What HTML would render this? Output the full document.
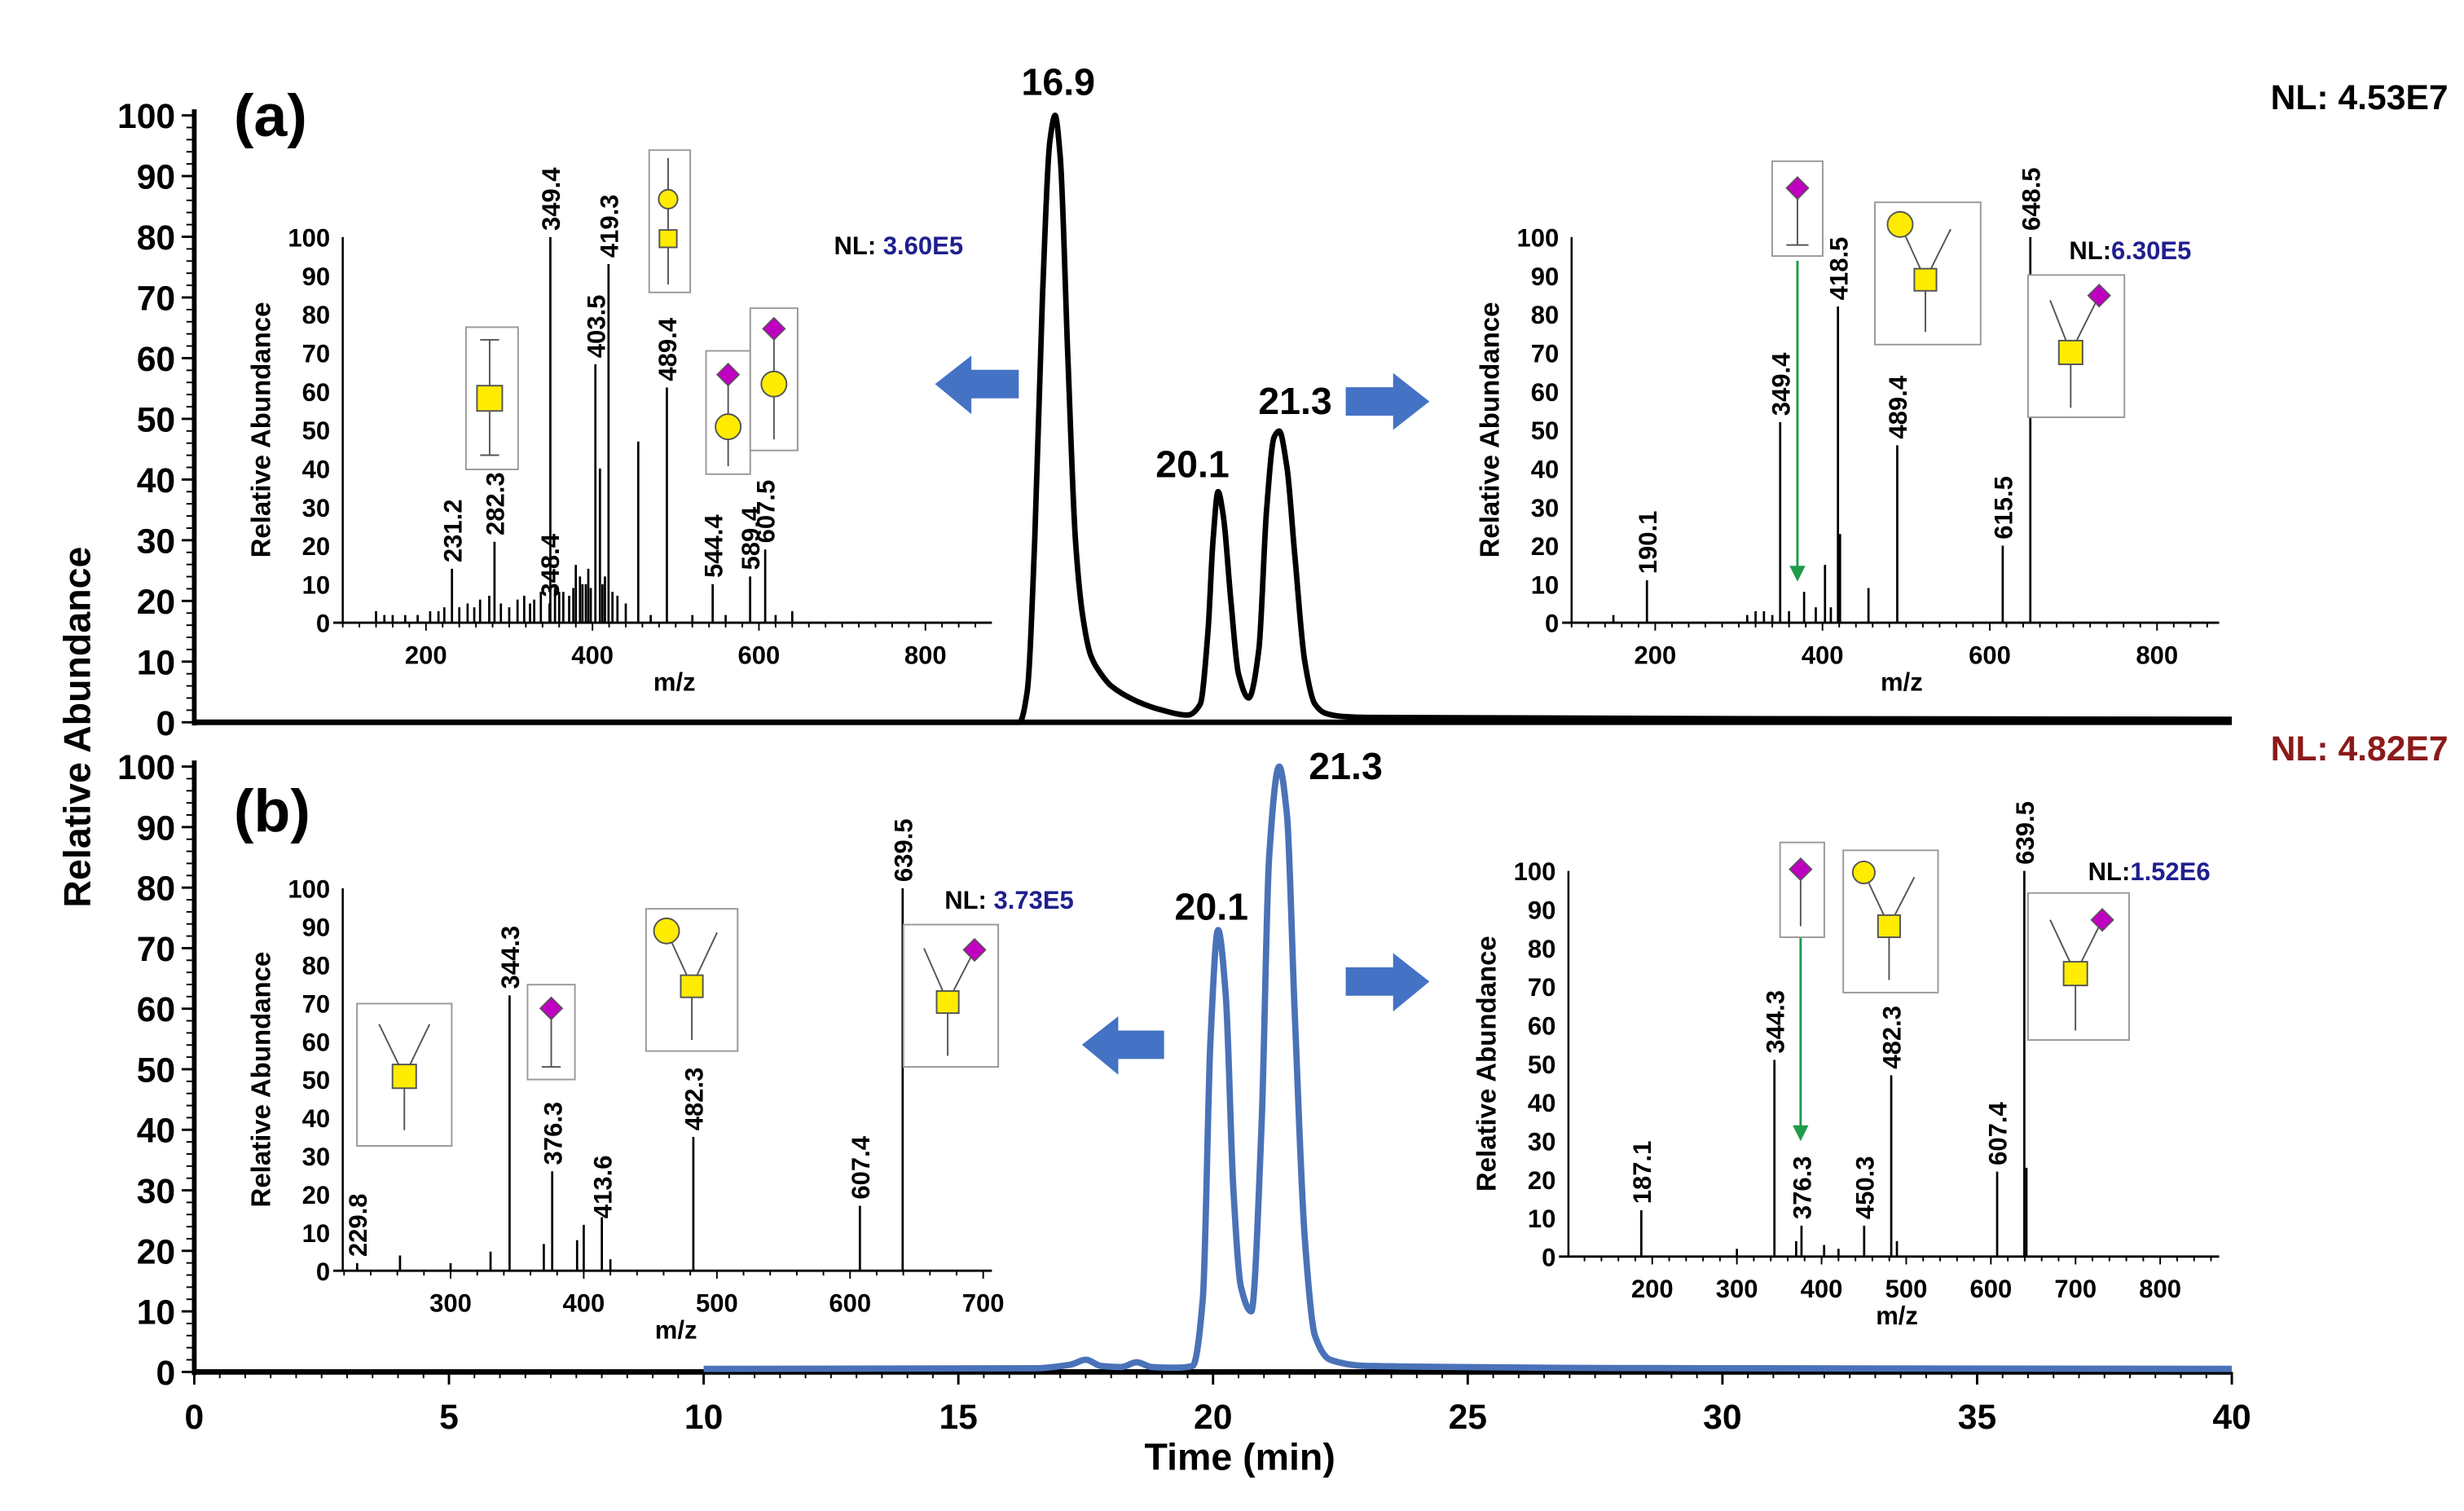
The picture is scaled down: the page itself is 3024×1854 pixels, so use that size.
<!DOCTYPE html>
<html><head><meta charset="utf-8"><style>
html,body{margin:0;padding:0;background:#fff}
svg{display:block;font-family:"Liberation Sans",Arial,sans-serif;font-weight:bold}
</style></head><body>
<svg id="fig" width="3024" height="1854" viewBox="0 0 1560 956" preserveAspectRatio="none" xmlns="http://www.w3.org/2000/svg">
<g id="static">
  <text x="148" y="86" font-size="38">(a)</text>
  <text x="148" y="526" font-size="38">(b)</text>
  <text x="1550" y="69" font-size="22" text-anchor="end">NL: 4.53E7</text>
  <text x="1550" y="481" font-size="22" text-anchor="end" fill="#8b1a1a">NL: 4.82E7</text>
  <text transform="translate(57,460) rotate(-90)" font-size="24" text-anchor="middle">Relative Abundance</text>
  <text x="785" y="930" font-size="24" text-anchor="middle">Time (min)</text>
  <text x="670" y="60" font-size="24" text-anchor="middle">16.9</text>
  <text x="755" y="302" font-size="24" text-anchor="middle">20.1</text>
  <text x="820" y="262" font-size="24" text-anchor="middle">21.3</text>
  <text x="767" y="582" font-size="24" text-anchor="middle">20.1</text>
  <text x="852" y="493" font-size="24" text-anchor="middle">21.3</text>
  <polygon points="592,243 615,225 615,234 645,234 645,252 615,252 615,262" fill="#4472c4"/>
  <polygon points="905,254 882,236 882,245 852,245 852,263 882,263 882,272" fill="#4472c4"/>
  <polygon points="685,661 708,643 708,652 737,652 737,670 708,670 708,680" fill="#4472c4"/>
  <polygon points="905,621 882,603 882,612 852,612 852,630 882,630 882,640" fill="#4472c4"/>
  <text x="528" y="161" font-size="16">NL: <tspan fill="#1f1f8f">3.60E5</tspan></text>
  <text x="1310" y="164" font-size="16">NL:<tspan fill="#1f1f8f">6.30E5</tspan></text>
  <text x="598" y="575" font-size="16">NL: <tspan fill="#1f1f8f">3.73E5</tspan></text>
  <text x="1322" y="557" font-size="16">NL:<tspan fill="#1f1f8f">1.52E6</tspan></text>
</g>
<g id="dyn"></g>
</svg>
<script>
// ---------- chromatogram data ----------
const chromTimeA = [0,16.2,16.35,16.5,16.65,16.8,16.9,17.0,17.15,17.3,17.45,17.6,17.8,18.0,18.5,19.0,19.5,19.75,19.9,20.0,20.1,20.2,20.35,20.5,20.7,20.9,21.05,21.2,21.3,21.45,21.6,21.8,22.0,22.2,22.5,23,30,40];
const chromIntA  = [0,0,5,30,70,96,100,93,60,30,17,11,8,6,3.5,2,1.2,3,15,30,38,34,20,8,4,12,35,47,48,42,28,10,3,1.5,1,0.8,0.6,0.5];
const chromTimeB = [10,16.5,17.2,17.5,17.8,18.2,18.5,18.8,19.3,19.6,19.8,19.95,20.1,20.25,20.4,20.55,20.75,20.95,21.1,21.3,21.45,21.6,21.8,22.0,22.3,23,30,40];
const chromIntB  = [0.5,0.6,1.2,2,1,0.8,1.6,0.8,0.7,1,12,55,73,62,30,14,10,40,85,100,92,60,22,6,2,1,0.6,0.5];
const timeTicks = [0,5,10,15,20,25,30,35,40];
const abundTicks = [0,10,20,30,40,50,60,70,80,90,100];

// ---------- spectra data ----------
const specALmz  = [231.2,282.3,276,348.4,349.4,380,392,403.5,409,419.3,424,455,489.4,544.4,589.4,607.5,640,140,150,160,175,190,205,215,222,240,250,258,265,290,300,310,318,325,330,338,355,360,365,372,377,385,388,395,398,412,415,430,440,470,520,560,620];
const specALint = [14,21,7,5,100,15,10,67,40,93,8,47,61,10,12,19,3,3,2,2,2,2,3,3,4,4,5,4,6,5,4,6,7,5,6,8,9,8,8,7,9,12,10,14,9,10,12,7,5,2,2,2,2];
const specALlabels = ["231.2","282.3","348.4","349.4","403.5","419.3","489.4","544.4","589.4","607.5"];
const specALlabelInt = [14,21,5,100,67,93,61,10,12,19];

const specARmz  = [190.1,150,320,330,349.4,378,392,403,418.5,421,455,489.4,615.5,648.5,360,410,310,340];
const specARint = [11,2,3,3,52,8,4,15,82,23,9,46,20,100,3,4,2,2];
const specARlabels = ["190.1","349.4","418.5","489.4","615.5","648.5"];
const specARlabelInt = [11,52,82,46,20,100];

const specBLmz  = [229.8,262,300,330,344.3,370,376.3,395,400,413.6,420,482.3,607.4,639.5];
const specBLint = [2,4,2,5,72,7,26,8,12,14,3,35,17,100];
const specBLlabels = ["229.8","344.3","376.3","413.6","482.3","607.4","639.5"];
const specBLlabelInt = [2,72,26,12,35,17,100];

const specBRmz  = [187.1,344.3,376.3,370,403,450.3,482.3,489,607.4,639.5,642,300,420];
const specBRint = [12,51,8,4,3,8,47,4,22,100,23,2,2];
const specBRlabels = ["187.1","344.3","376.3","450.3","482.3","607.4","639.5"];
const specBRlabelInt = [12,51,8,8,47,22,100];

const NS = "http://www.w3.org/2000/svg";
const dyn = document.getElementById('dyn');
function mk(tag, attrs, parent){const e=document.createElementNS(NS,tag);for(const k in attrs)e.setAttribute(k,attrs[k]);(parent||dyn).appendChild(e);return e;}

// ---------- main axes ----------
const X0=123, X1=1413;
function tx(t){return X0+(t/40)*(X1-X0);}
function yA(v){return 457-(v/100)*384;}
function yB(v){return 868-(v/100)*383;}

function mainYAxis(yf, name){
  const ax=mk('line',{x1:X0,y1:yf(0)+2,x2:X0,y2:yf(101),stroke:'#000','stroke-width':3});
  
  
  for(let v=0;v<=100;v+=2){
    const major = v%10===0;
    mk('line',{x1:X0-(major?8:5),y1:yf(v),x2:X0,y2:yf(v),stroke:'#000','stroke-width':major?1.5:1});
  }
  abundTicks.forEach(v=>{
    const t=mk('text',{x:X0-12,y:yf(v)+8,'font-size':22,'text-anchor':'end'});
    t.textContent=v;
    
    
  });
}
mainYAxis(yA,'y-axis-a');
mainYAxis(yB,'y-axis-b');
const axA=mk('line',{x1:X0,y1:457,x2:X1,y2:457,stroke:'#000','stroke-width':3.5});


const axB=mk('line',{x1:X0,y1:868,x2:X1,y2:868,stroke:'#000','stroke-width':3.5});


for(let t=0;t<=40;t+=0.5){
  const major=t%5===0;
  mk('line',{x1:tx(t),y1:868,x2:tx(t),y2:868+(major?8:4),stroke:'#000','stroke-width':major?1.5:1});
}
timeTicks.forEach(t=>{
  const e=mk('text',{x:tx(t),y:904,'font-size':22,'text-anchor':'middle'});
  e.textContent=t;
  
  
});

// monotone cubic interpolation (Fritsch-Carlson)
function trace(times, ints, yf, color, w, name){
  const X=times.map(tx), Y=ints.map(yf), n=X.length;
  const dx=[],s=[];
  for(let i=0;i<n-1;i++){dx[i]=X[i+1]-X[i];s[i]=(Y[i+1]-Y[i])/dx[i];}
  const m=new Array(n);
  m[0]=s[0]; m[n-1]=s[n-2];
  for(let i=1;i<n-1;i++){
    if(s[i-1]*s[i]<=0) m[i]=0;
    else { const w1=2*dx[i]+dx[i-1], w2=dx[i]+2*dx[i-1]; m[i]=(w1+w2)/(w1/s[i-1]+w2/s[i]); }
  }
  let d='M'+X[0].toFixed(1)+','+Y[0].toFixed(1);
  for(let i=0;i<n-1;i++){
    const h=dx[i]/3;
    d+=` C${(X[i]+h).toFixed(1)},${(Y[i]+m[i]*h).toFixed(1)} ${(X[i+1]-h).toFixed(1)},${(Y[i+1]-m[i+1]*h).toFixed(1)} ${X[i+1].toFixed(1)},${Y[i+1].toFixed(1)}`;
  }
  const p=mk('path',{d:d,fill:'none',stroke:color,'stroke-width':w,'stroke-linejoin':'round'});
  
  
}
trace(chromTimeA,chromIntA,yA,'#000',3.5,'trace-a');
trace(chromTimeB,chromIntB,yB,'#4a72b8',4,'trace-b');

// ---------- insets ----------
function inset(cfg){
  const g=mk('g',{});
  
  
  const mx=m=>cfg.x0+(m-cfg.m0)*cfg.k;
  const my=v=>cfg.y0-(v/100)*(cfg.y0-cfg.y100);
  mk('line',{x1:cfg.x0,y1:cfg.y0,x2:cfg.x0,y2:cfg.y100,stroke:'#000','stroke-width':1.3},g);
  mk('line',{x1:cfg.x0-6,y1:cfg.y0,x2:cfg.xe,y2:cfg.y0,stroke:'#000','stroke-width':1.5},g);
  for(let v=0;v<=100;v+=10){
    const t=mk('text',{x:cfg.x0-8,y:my(v)+6,'font-size':16,'text-anchor':'end'},g);
    t.textContent=v;
    
    
  }
  for(let m=Math.ceil(cfg.m0/20)*20;mx(m)<=cfg.xe;m+=20){
    const maj=m%cfg.step===0;
    mk('line',{x1:mx(m),y1:cfg.y0,x2:mx(m),y2:cfg.y0+(maj?5:3),stroke:'#000','stroke-width':1},g);
  }
  cfg.ticks.forEach(m=>{
    const t=mk('text',{x:mx(m),y:cfg.y0+26,'font-size':16,'text-anchor':'middle'},g);
    t.textContent=m;
    
    
  });
  const xt=mk('text',{x:cfg.mzX,y:cfg.y0+43,'font-size':16,'text-anchor':'middle'},g);
  xt.textContent='m/z';
  
  
  const yt=mk('text',{transform:`translate(${cfg.x0-46},${(cfg.y0+cfg.y100)/2}) rotate(-90)`,'font-size':17,'text-anchor':'middle'},g);
  yt.textContent='Relative Abundance';
  
  
  cfg.mz.forEach((m,i)=>{
    const b=mk('line',{x1:mx(m),y1:cfg.y0,x2:mx(m),y2:my(cfg.int[i]),stroke:'#000','stroke-width':1.4},g);
    
    
  });
  cfg.labels.forEach((l,i)=>{
    const x=mx(parseFloat(l))+6, y=my(cfg.labelInt[i])-4;
    const t=mk('text',{transform:`translate(${x},${y}) rotate(-90)`,'font-size':16},g);
    t.textContent=l;
    
    
  });
}
inset({name:'inset-a-left',x0:217,xe:628,y0:394,y100:150,m0:100,k:0.527,step:200,ticks:[200,400,600,800],mzX:427,mz:specALmz,int:specALint,labels:specALlabels,labelInt:specALlabelInt});
inset({name:'inset-a-right',x0:995,xe:1405,y0:394,y100:150,m0:100,k:0.5295,step:200,ticks:[200,400,600,800],mzX:1204,mz:specARmz,int:specARint,labels:specARlabels,labelInt:specARlabelInt});
inset({name:'inset-b-left',x0:217,xe:628,y0:804,y100:562,m0:219,k:0.843,step:100,ticks:[300,400,500,600,700],mzX:428,mz:specBLmz,int:specBLint,labels:specBLlabels,labelInt:specBLlabelInt});
inset({name:'inset-b-right',x0:993,xe:1405,y0:795,y100:551,m0:101,k:0.536,step:100,ticks:[200,300,400,500,600,700,800],mzX:1201,mz:specBRmz,int:specBRint,labels:specBRlabels,labelInt:specBRlabelInt});

// green arrows
[[1138,165,368],[1140,592,722]].forEach(a=>{
  const l=mk('line',{x1:a[0],y1:a[1],x2:a[0],y2:a[2]-8,stroke:'#1e9c4a','stroke-width':1.5});
  
  
  mk('polygon',{points:`${a[0]-5},${a[2]-10} ${a[0]+5},${a[2]-10} ${a[0]},${a[2]}`,fill:'#1e9c4a'});
});

// glycan boxes
function box(x1,y1,x2,y2){
  const r=mk('rect',{x:x1,y:y1,width:x2-x1,height:y2-y1,fill:'#fff',stroke:'#999','stroke-width':1});
  
  
}
function ln(x1,y1,x2,y2,c){mk('line',{x1,y1,x2,y2,stroke:c||'#555','stroke-width':1});}
function sq(x,y,s){mk('rect',{x:x-s/2,y:y-s/2,width:s,height:s,fill:'#ffec00',stroke:'#555','stroke-width':1});}
function ci(x,y,r){mk('circle',{cx:x,cy:y,r:r,fill:'#ffec00',stroke:'#555','stroke-width':1});}
function di(x,y,s){mk('polygon',{points:`${x},${y-s} ${x+s},${y} ${x},${y+s} ${x-s},${y}`,fill:'#c000c0',stroke:'#555','stroke-width':0.8});}
box(295,207,328,297); ln(310,215,310,288); ln(304,215,316,215); ln(304,288,316,288); sq(310,252,16);
box(411,95,437,185); ln(423,100,423,180); ci(423,126,6); sq(423,151,11);
box(447,222,475,300); ln(461,237,461,295); di(461,237,7); ci(461,270,8);
box(475,195,505,285); ln(490,208,490,278); di(490,208,7); ci(490,243,8);
box(1122,102,1154,162); ln(1138,119,1138,155); ln(1131,155,1145,155); di(1138,119,7);
box(1187,128,1254,218); ln(1203,142,1219,177); ln(1235,145,1219,177); ln(1219,177,1219,210); ci(1203,142,8); sq(1219,177,14);
box(1284,174,1345,264); ln(1298,190,1311,223); ln(1329,187,1311,223); ln(1311,223,1311,258); di(1329,187,7); sq(1311,223,15);
box(226,635,286,725); ln(240,648,256,681); ln(272,648,256,681); ln(256,681,256,715); sq(256,681,15);
box(334,623,364,683); ln(349,638,349,675); ln(343,675,355,675); di(349,638,7);
box(409,575,467,665); ln(422,589,438,624); ln(454,590,438,624); ln(438,624,438,658); ci(422,589,8); sq(438,624,14);
box(572,585,632,675); ln(585,600,600,634); ln(617,601,600,634); ln(600,634,600,668); di(617,601,7); sq(600,634,14);
box(1127,533,1155,593); ln(1140,550,1140,586); di(1140,550,7);
box(1167,538,1227,628); ln(1180,552,1196,586); ln(1212,555,1196,586); ln(1196,586,1196,620); ci(1180,552,7); sq(1196,586,14);
box(1284,565,1348,658); ln(1298,582,1314,616); ln(1331,582,1314,616); ln(1314,616,1314,652); di(1331,582,7); sq(1314,616,15);
</script>
</body></html>
